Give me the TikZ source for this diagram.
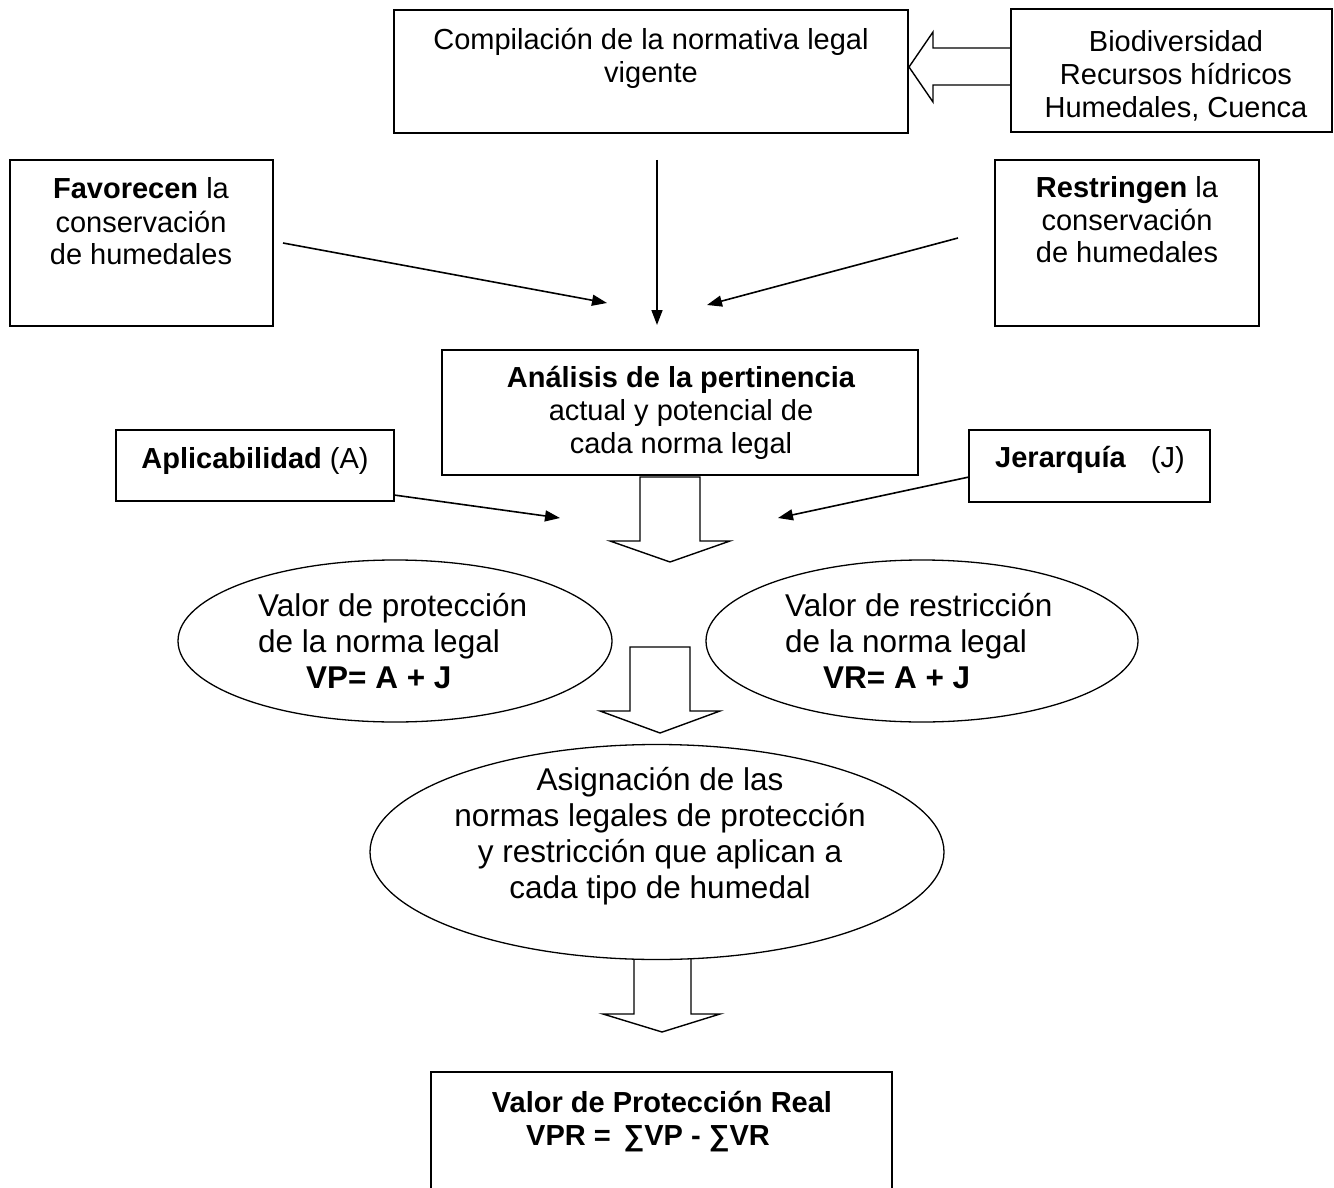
\documentclass[tikz,border=0pt]{standalone}
\usepackage{fontspec}
\setmainfont{Liberation Sans}
\usetikzlibrary{shapes.geometric,arrows.meta}
\newcommand{\mylines}[1]{\begin{tabular}[t]{@{}c@{}}#1\end{tabular}}
\newcommand{\mylinesl}[1]{\begin{tabular}[t]{@{}l@{}}#1\end{tabular}}
\begin{document}
\begin{tikzpicture}[x=1pt,y=-1pt,
  box/.style={draw, line width=1.4pt, inner sep=0pt},
  ell/.style={draw, ellipse, line width=1.3pt, inner sep=0pt},
  txt/.style={anchor=base, inner sep=0pt, font=\fontsize{29}{33}\selectfont},
  etxt/.style={anchor=base, inner sep=0pt, font=\fontsize{31.5}{36}\selectfont},
  conn/.style={line width=1.6pt, -{Triangle[length=15pt,width=11pt]}},
  barrow/.style={line width=1.4pt, line join=miter}]
\useasboundingbox (0,0) rectangle (1334,1188);
\clip (0,0) rectangle (1334,1188);
\fill[white] (0,0) rectangle (1334,1188);

% boxes
\node[box, minimum width=514pt, minimum height=123pt] (comp) at (651,71.5) {};
\node[txt] (compt) at (651,50) {\mylines{Compilación de la normativa legal\\vigente}};

\node[box, minimum width=321pt, minimum height=123pt] (bio) at (1171.5,70.5) {};
\node[txt] (biot) at (1176,52) {\mylines{Biodiversidad\\Recursos hídricos\\Humedales, Cuenca}};

\node[box, minimum width=263pt, minimum height=166pt] (fav) at (141.5,243) {};
\node[txt] (favt) at (141,199) {\mylines{\textbf{Favorecen} la\\conservación\\de humedales}};

\node[box, minimum width=264pt, minimum height=166pt] (res) at (1127,243) {};
\node[txt] (rest) at (1127,197) {\mylines{\textbf{Restringen} la\\conservación\\de humedales}};

\node[box, minimum width=476pt, minimum height=125pt] (ana) at (680,412.5) {};
\node[txt] (anat) at (681,387) {\mylines{\textbf{Análisis de la pertinencia}\\actual y potencial de\\cada norma legal}};

\node[box, minimum width=278pt, minimum height=71pt] (apl) at (255,465.5) {};
\node[txt] (aplt) at (255,468) {\textbf{Aplicabilidad} (A)};

\node[box, minimum width=241pt, minimum height=72pt] (jer) at (1089.5,466) {};
\node[txt] (jert) at (1090,467) {\textbf{Jerarquía}\hspace{25pt}(J)};

% ellipses
\node[ell, minimum width=434pt, minimum height=162pt] (vp) at (395,641) {};
\node[etxt, anchor=base west] (vpt) at (258,616) {\mylinesl{Valor de protección\\de la norma legal\\\hspace*{48pt}\textbf{VP= A + J}}};

\node[ell, minimum width=432pt, minimum height=162pt] (vr) at (922,641) {};
\node[etxt, anchor=base west] (vrt) at (785,616) {\mylinesl{Valor de restricción\\de la norma legal\\\hspace*{38pt}\textbf{VR= A + J}}};

\node[ell, minimum width=574pt, minimum height=215pt] (asig) at (657,852) {};
\node[etxt] (asigt) at (660,790) {\mylines{Asignación de las\\normas legales de protección\\y restricción que aplican a\\cada tipo de humedal}};

% bottom box (cut by the page edge)
\node[box, minimum width=461pt, minimum height=200pt] (vpr) at (661.5,1172) {};
\node[txt] (vprt) at (662,1112) {\mylines{\textbf{Valor de Protección Real}\\\textbf{VPR = \,∑VP - ∑VR}\hspace*{28pt}}};

% thin arrows
\coordinate (v1) at (657,160);
\coordinate (v2) at (657,325);
\draw[conn] (v1) -- (v2);
\coordinate (f1) at (283,243);
\coordinate (f2) at (607,303);
\draw[conn] (f1) -- (f2);
\coordinate (r1) at (958,238);
\coordinate (r2) at (707,305);
\draw[conn] (r1) -- (r2);
\coordinate (a1) at (394,495);
\coordinate (a2) at (560,518);
\draw[conn] (a1) -- (a2);
\coordinate (j1) at (969,477);
\coordinate (j2) at (778,518);
\draw[conn] (j1) -- (j2);

% block arrows
\draw[barrow] (bio.west |- 0,48) -- (933,48) -- (933,32) -- (909,67) -- (933,102) -- (933,85) -- (bio.west |- 0,85);
\draw[barrow] (640,477) -- (640,541) -- (610,541) -- (670,562) -- (730,541) -- (700,541) -- (700,477) -- cycle;
\draw[barrow] (630,647) -- (630,711) -- (600,711) -- (660,733) -- (720,711) -- (690,711) -- (690,647) -- cycle;
\draw[barrow] (634,959) -- (634,1014) -- (603,1014) -- (662,1032) -- (720,1014) -- (691,1014) -- (691,959);
\end{tikzpicture}
\end{document}
